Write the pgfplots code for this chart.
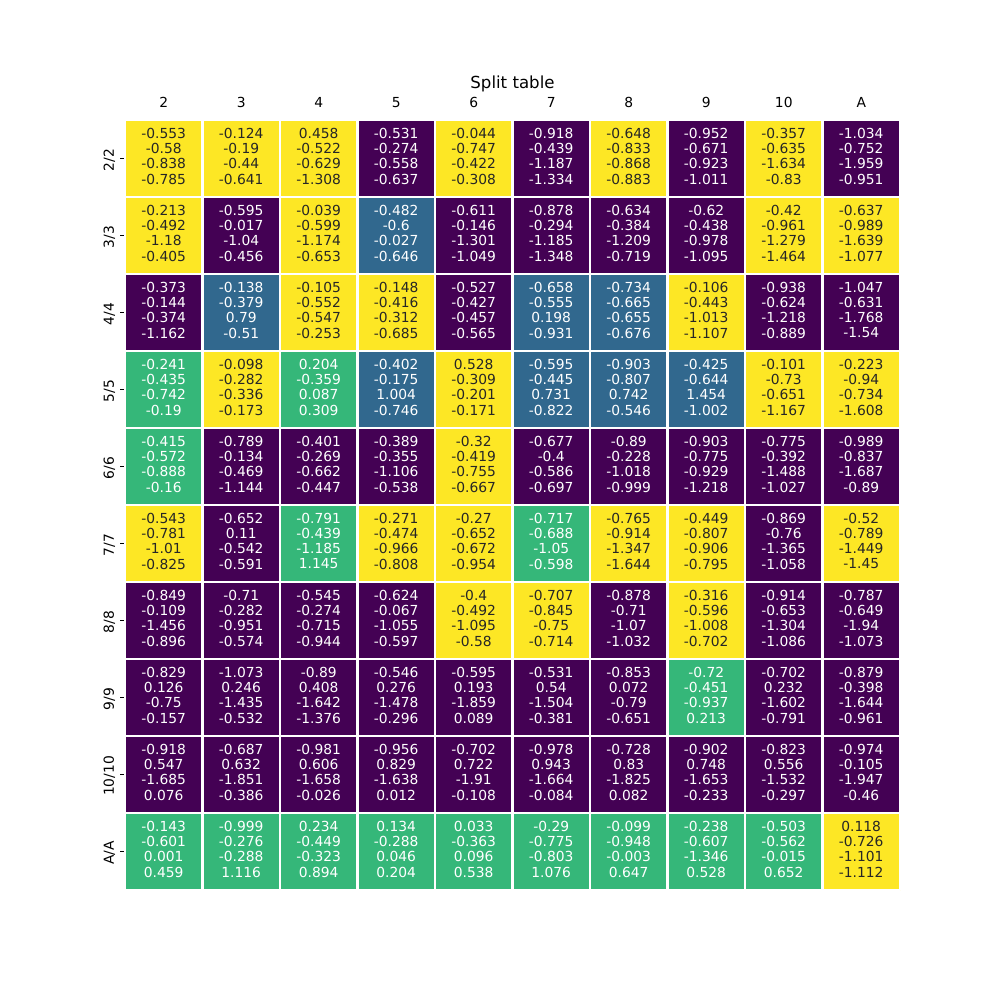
\documentclass[border=0pt]{standalone}
\usepackage{fontspec}
\setmainfont{DejaVu Sans}
\usepackage{pgfplots}
\usepackage{pgfplotstable}
\pgfplotsset{compat=1.18}
\definecolor{darktext}{HTML}{262626}

\pgfplotstableread{
x y c a b d e
0 0 3 -0.553 -0.58 -0.838 -0.785
1 0 3 -0.124 -0.19 -0.44 -0.641
2 0 3 0.458 -0.522 -0.629 -1.308
3 0 0 -0.531 -0.274 -0.558 -0.637
4 0 3 -0.044 -0.747 -0.422 -0.308
5 0 0 -0.918 -0.439 -1.187 -1.334
6 0 3 -0.648 -0.833 -0.868 -0.883
7 0 0 -0.952 -0.671 -0.923 -1.011
8 0 3 -0.357 -0.635 -1.634 -0.83
9 0 0 -1.034 -0.752 -1.959 -0.951
0 1 3 -0.213 -0.492 -1.18 -0.405
1 1 0 -0.595 -0.017 -1.04 -0.456
2 1 3 -0.039 -0.599 -1.174 -0.653
3 1 1 -0.482 -0.6 -0.027 -0.646
4 1 0 -0.611 -0.146 -1.301 -1.049
5 1 0 -0.878 -0.294 -1.185 -1.348
6 1 0 -0.634 -0.384 -1.209 -0.719
7 1 0 -0.62 -0.438 -0.978 -1.095
8 1 3 -0.42 -0.961 -1.279 -1.464
9 1 3 -0.637 -0.989 -1.639 -1.077
0 2 0 -0.373 -0.144 -0.374 -1.162
1 2 1 -0.138 -0.379 0.79 -0.51
2 2 3 -0.105 -0.552 -0.547 -0.253
3 2 3 -0.148 -0.416 -0.312 -0.685
4 2 0 -0.527 -0.427 -0.457 -0.565
5 2 1 -0.658 -0.555 0.198 -0.931
6 2 1 -0.734 -0.665 -0.655 -0.676
7 2 3 -0.106 -0.443 -1.013 -1.107
8 2 0 -0.938 -0.624 -1.218 -0.889
9 2 0 -1.047 -0.631 -1.768 -1.54
0 3 2 -0.241 -0.435 -0.742 -0.19
1 3 3 -0.098 -0.282 -0.336 -0.173
2 3 2 0.204 -0.359 0.087 0.309
3 3 1 -0.402 -0.175 1.004 -0.746
4 3 3 0.528 -0.309 -0.201 -0.171
5 3 1 -0.595 -0.445 0.731 -0.822
6 3 1 -0.903 -0.807 0.742 -0.546
7 3 1 -0.425 -0.644 1.454 -1.002
8 3 3 -0.101 -0.73 -0.651 -1.167
9 3 3 -0.223 -0.94 -0.734 -1.608
0 4 2 -0.415 -0.572 -0.888 -0.16
1 4 0 -0.789 -0.134 -0.469 -1.144
2 4 0 -0.401 -0.269 -0.662 -0.447
3 4 0 -0.389 -0.355 -1.106 -0.538
4 4 3 -0.32 -0.419 -0.755 -0.667
5 4 0 -0.677 -0.4 -0.586 -0.697
6 4 0 -0.89 -0.228 -1.018 -0.999
7 4 0 -0.903 -0.775 -0.929 -1.218
8 4 0 -0.775 -0.392 -1.488 -1.027
9 4 0 -0.989 -0.837 -1.687 -0.89
0 5 3 -0.543 -0.781 -1.01 -0.825
1 5 0 -0.652 0.11 -0.542 -0.591
2 5 2 -0.791 -0.439 -1.185 1.145
3 5 3 -0.271 -0.474 -0.966 -0.808
4 5 3 -0.27 -0.652 -0.672 -0.954
5 5 2 -0.717 -0.688 -1.05 -0.598
6 5 3 -0.765 -0.914 -1.347 -1.644
7 5 3 -0.449 -0.807 -0.906 -0.795
8 5 0 -0.869 -0.76 -1.365 -1.058
9 5 3 -0.52 -0.789 -1.449 -1.45
0 6 0 -0.849 -0.109 -1.456 -0.896
1 6 0 -0.71 -0.282 -0.951 -0.574
2 6 0 -0.545 -0.274 -0.715 -0.944
3 6 0 -0.624 -0.067 -1.055 -0.597
4 6 3 -0.4 -0.492 -1.095 -0.58
5 6 3 -0.707 -0.845 -0.75 -0.714
6 6 0 -0.878 -0.71 -1.07 -1.032
7 6 3 -0.316 -0.596 -1.008 -0.702
8 6 0 -0.914 -0.653 -1.304 -1.086
9 6 0 -0.787 -0.649 -1.94 -1.073
0 7 0 -0.829 0.126 -0.75 -0.157
1 7 0 -1.073 0.246 -1.435 -0.532
2 7 0 -0.89 0.408 -1.642 -1.376
3 7 0 -0.546 0.276 -1.478 -0.296
4 7 0 -0.595 0.193 -1.859 0.089
5 7 0 -0.531 0.54 -1.504 -0.381
6 7 0 -0.853 0.072 -0.79 -0.651
7 7 2 -0.72 -0.451 -0.937 0.213
8 7 0 -0.702 0.232 -1.602 -0.791
9 7 0 -0.879 -0.398 -1.644 -0.961
0 8 0 -0.918 0.547 -1.685 0.076
1 8 0 -0.687 0.632 -1.851 -0.386
2 8 0 -0.981 0.606 -1.658 -0.026
3 8 0 -0.956 0.829 -1.638 0.012
4 8 0 -0.702 0.722 -1.91 -0.108
5 8 0 -0.978 0.943 -1.664 -0.084
6 8 0 -0.728 0.83 -1.825 0.082
7 8 0 -0.902 0.748 -1.653 -0.233
8 8 0 -0.823 0.556 -1.532 -0.297
9 8 0 -0.974 -0.105 -1.947 -0.46
0 9 2 -0.143 -0.601 0.001 0.459
1 9 2 -0.999 -0.276 -0.288 1.116
2 9 2 0.234 -0.449 -0.323 0.894
3 9 2 0.134 -0.288 0.046 0.204
4 9 2 0.033 -0.363 0.096 0.538
5 9 2 -0.29 -0.775 -0.803 1.076
6 9 2 -0.099 -0.948 -0.003 0.647
7 9 2 -0.238 -0.607 -1.346 0.528
8 9 2 -0.503 -0.562 -0.015 0.652
9 9 3 0.118 -0.726 -1.101 -1.112
}\heat

\pgfplotsset{
  celltext/.style={only marks, mark=none, point meta=explicit symbolic,
    visualization depends on={\thisrow{c}\as\mycval},
    nodes near coords,
    every node near coord/.append style={anchor=center,
      /utils/exec={\ifdim\mycval pt>2.5pt \def\mytc{darktext}\else\def\mytc{white}\fi},
      text=\mytc, font=\fontsize{10}{11.6}\selectfont, yshift=#1}},
}

\begin{document}
\begin{tikzpicture}
\useasboundingbox (-1.25in,-1.1in) rectangle (8.75in,8.9in);
\begin{axis}[
  at={(0,0)}, anchor=south west,
  scale only axis, width=7.75in, height=7.7in,
  xmin=-0.5, xmax=9.5, ymin=-0.5, ymax=9.5,
  enlargelimits=false, y dir=reverse,
  axis line style={draw=none},
  tick align=outside, major tick length=3.5pt,
  xtick={0,...,9}, xticklabels={2,3,4,5,6,7,8,9,10,A},
  ytick={0,...,9}, yticklabels={2/2,3/3,4/4,5/5,6/6,7/7,8/8,9/9,10/10,A/A},
  xticklabel pos=right,
  ytick pos=left,
  xtick style={draw=none},
  ytick style={black, line width=0.8pt},
  xticklabel style={yshift=2pt},
  yticklabel style={rotate=90, anchor=south, xshift=-1pt},
  tick label style={font=\fontsize{10}{12}\selectfont},
  extra x ticks={-0.5,0.5,...,9.5}, extra x tick labels={},
  extra y ticks={-0.5,0.5,...,9.5}, extra y tick labels={},
  extra tick style={grid=major, major grid style={white, line width=2pt}, major tick length=0pt},
  axis on top,
  title={Split table},
  title style={at={(0.5,1)}, anchor=base, yshift=16.5pt, font=\fontsize{12}{14}\selectfont},
  colormap={heat}{rgb255=(68,1,84) rgb255=(49,104,142) rgb255=(53,183,121) rgb255=(253,231,37)},
  colormap access=direct,
]
\addplot[matrix plot*, mesh/cols=10, point meta=explicit] table[x=x, y=y, meta=c]{\heat};
\addplot[celltext=18.2pt] table[x=x, y=y, meta=a]{\heat};
\addplot[celltext=7.2pt] table[x=x, y=y, meta=b]{\heat};
\addplot[celltext=-3.8pt] table[x=x, y=y, meta=d]{\heat};
\addplot[celltext=-14.8pt] table[x=x, y=y, meta=e]{\heat};
\end{axis}
\end{tikzpicture}
\end{document}
